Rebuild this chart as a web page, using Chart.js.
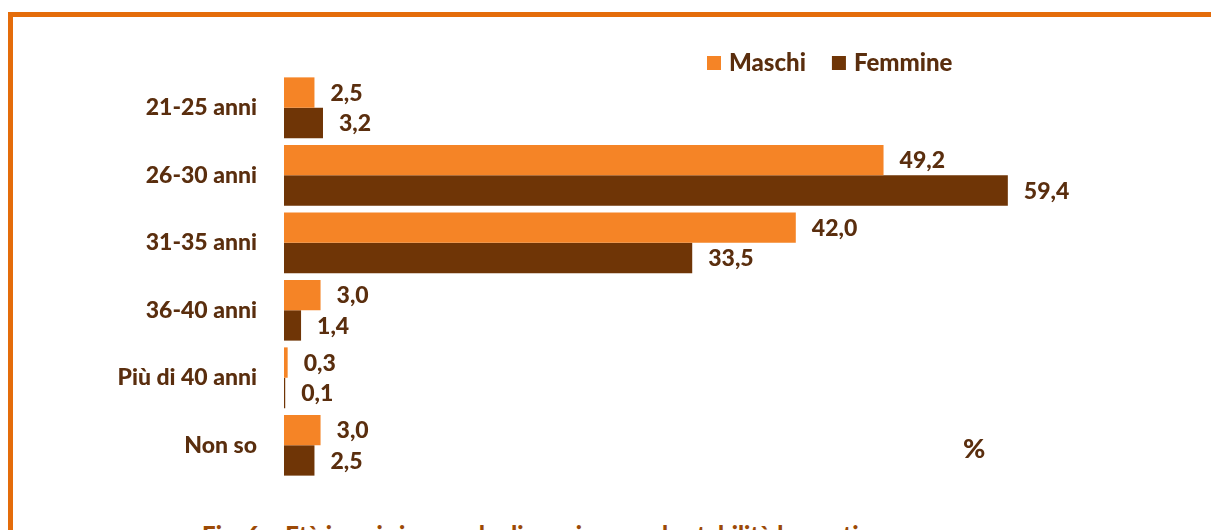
<!DOCTYPE html>
<html>
<head>
<meta charset="utf-8">
<script src="https://cdn.jsdelivr.net/npm/chart.js@4"></script>
<style>
  html, body { margin: 0; padding: 0; background: #fff; overflow: hidden; }
  #wrap { position: relative; width: 1211px; height: 530px; }
  #frame { position: absolute; left: 8px; top: 12px; width: 1300px; height: 600px;
           border-left: 5px solid #E46C0A; border-top: 5px solid #E46C0A; }
  #chart { position: absolute; left: 0; top: 0; }
  #caption { position: absolute; left: 0; width: 1211px; top: 520px; text-align: center;
             font: 900 24px Lato, sans-serif; color: #9C4A06; white-space: nowrap; }
</style>
</head>
<body>
<div id="wrap">
  <div id="frame"></div>
  <div id="caption">Fig. 6 – Età in cui si prevede di raggiungere la stabilità lavorativa, per genere</div>
  <canvas id="chart" width="1211" height="530"></canvas>
</div>
<script>
const categories = ["21-25 anni", "26-30 anni", "31-35 anni", "36-40 anni", "Più di 40 anni", "Non so"];
const maschi = [2.5, 49.2, 42.0, 3.0, 0.3, 3.0];
const femmine = [3.2, 59.4, 33.5, 1.4, 0.1, 2.5];

const textColor = "#5A2E0E";
const font = "900 23px Lato, sans-serif";

// value labels to the right of each bar
const valueLabels = {
  id: "valueLabels",
  afterDatasetsDraw(chart) {
    const ctx = chart.ctx;
    ctx.save();
    ctx.font = font;
    ctx.fillStyle = textColor;
    ctx.textBaseline = "middle";
    ctx.textAlign = "left";
    chart.data.datasets.forEach((ds, i) => {
      chart.getDatasetMeta(i).data.forEach((bar, j) => {
        ctx.fillText(ds.data[j].toFixed(1).replace(".", ","), bar.x + 16, bar.y + 1);
      });
    });
    ctx.restore();
  }
};

// legend and % marker
const extras = {
  id: "extras",
  afterDraw(chart) {
    const ctx = chart.ctx;
    ctx.save();
    ctx.font = "900 24px Lato, sans-serif";
    ctx.textBaseline = "middle";
    let x = 707;
    chart.data.datasets.forEach(ds => {
      ctx.fillStyle = ds.backgroundColor;
      ctx.fillRect(x, 56, 14, 14);
      ctx.fillStyle = textColor;
      ctx.fillText(ds.label, x + 22, 63);
      x += 22 + ctx.measureText(ds.label).width + 26;
    });
    ctx.font = "900 27px Lato, sans-serif";
    ctx.fillText("%", 963, 449);
    ctx.restore();
  }
};

new Chart(document.getElementById("chart"), {
  type: "bar",
  data: {
    labels: categories,
    datasets: [
      { label: "Maschi", data: maschi, backgroundColor: "#F58426" },
      { label: "Femmine", data: femmine, backgroundColor: "#6F3506" }
    ]
  },
  options: {
    indexAxis: "y",
    responsive: false,
    animation: false,
    categoryPercentage: 0.9,
    barPercentage: 1.0,
    layout: { padding: { left: 0, right: 74, top: 74, bottom: 51 } },
    plugins: { legend: { display: false }, tooltip: { enabled: false } },
    scales: {
      x: { display: false, min: 0, max: 70 },
      y: {
        grid: { display: false, drawTicks: false },
        border: { display: false },
        ticks: { color: textColor, font: { family: "Lato", size: 23, weight: "900" }, padding: 27 },
        afterFit(scale) { scale.width = 284; }
      }
    }
  },
  plugins: [valueLabels, extras]
});
</script>
</body>
</html>
